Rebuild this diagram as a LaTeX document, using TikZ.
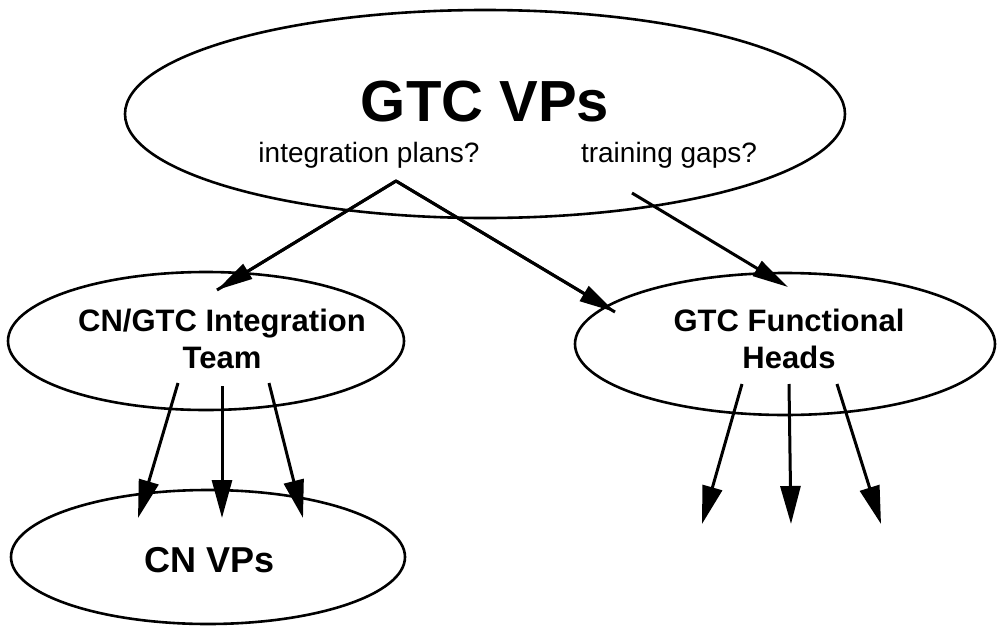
\documentclass[tikz,border=0pt]{standalone}
\usepackage{fontspec}
\setmainfont{Liberation Sans}
\usetikzlibrary{shapes.geometric,arrows.meta}
\tikzset{
  oval/.style={draw, line width=2.6pt, ellipse, inner sep=0pt},
  lbl/.style={font=\bfseries\fontsize{31}{37}\selectfont, align=center, inner sep=0pt},
  conn/.style={line width=3pt, -{Triangle[length=38pt,width=20pt]}},
  connb/.style={line width=3pt, -{Triangle[length=36pt,width=17pt]}},
}
\begin{document}
\begin{tikzpicture}[x=1pt,y=-1pt]
\useasboundingbox (0,0) rectangle (999,632);
% ellipses
\node[oval, minimum width=720pt, minimum height=208pt] (top) at (485,114) {};
\node[oval, minimum width=396pt, minimum height=138pt] (team) at (206,341) {};
\node[oval, minimum width=420pt, minimum height=142pt] (heads) at (785,344) {};
\node[oval, minimum width=394pt, minimum height=134pt] (cnvp) at (208,557) {};
% texts
\node[font=\bfseries\fontsize{58}{60}\selectfont, inner sep=0pt, anchor=base] (title) at (485,121) {GTC VPs};
\node[font=\fontsize{28}{30}\selectfont, inner sep=0pt, anchor=base] (plans) at (369,162) {integration plans?};
\node[font=\fontsize{28}{30}\selectfont, inner sep=0pt, anchor=base] (gaps) at (669,162) {training gaps?};
\node[lbl, anchor=base] (teamA) at (222,331) {CN/GTC Integration};
\node[lbl, anchor=base] (teamB) at (222,368) {Team};
\node[lbl, anchor=base] (headsA) at (789,331) {GTC Functional};
\node[lbl, anchor=base] (headsB) at (789,368) {Heads};
\node[font=\bfseries\fontsize{36}{40}\selectfont, inner sep=0pt, anchor=base] (cnvpt) at (210,572) {CN VPs};
% connector endpoints
\coordinate (p0) at (396,181);
\coordinate (p1) at (217,290);
\coordinate (p2) at (615,312);
\coordinate (g0) at (632,193);
\coordinate (g1) at (788,287);
\coordinate (a1) at (178,383); \coordinate (b1) at (138,518);
\coordinate (a2) at (222,386); \coordinate (b2) at (222,518);
\coordinate (a3) at (269,383); \coordinate (b3) at (303,518);
\coordinate (c1) at (742,384); \coordinate (d1) at (702,524);
\coordinate (c2) at (789,384); \coordinate (d2) at (791,524);
\coordinate (c3) at (837,384); \coordinate (d3) at (881,524);
% connectors
\draw[line width=3pt, line join=miter] (p1) -- (p0) -- (p2);
\draw[connb] (p0) -- (p1);
\draw[connb] (p0) -- (p2);
\draw[connb] (g0) -- (g1);
\draw[conn] (a1) -- (b1);
\draw[conn] (a2) -- (b2);
\draw[conn] (a3) -- (b3);
\draw[conn] (c1) -- (d1);
\draw[conn] (c2) -- (d2);
\draw[conn] (c3) -- (d3);
\end{tikzpicture}
\end{document}
